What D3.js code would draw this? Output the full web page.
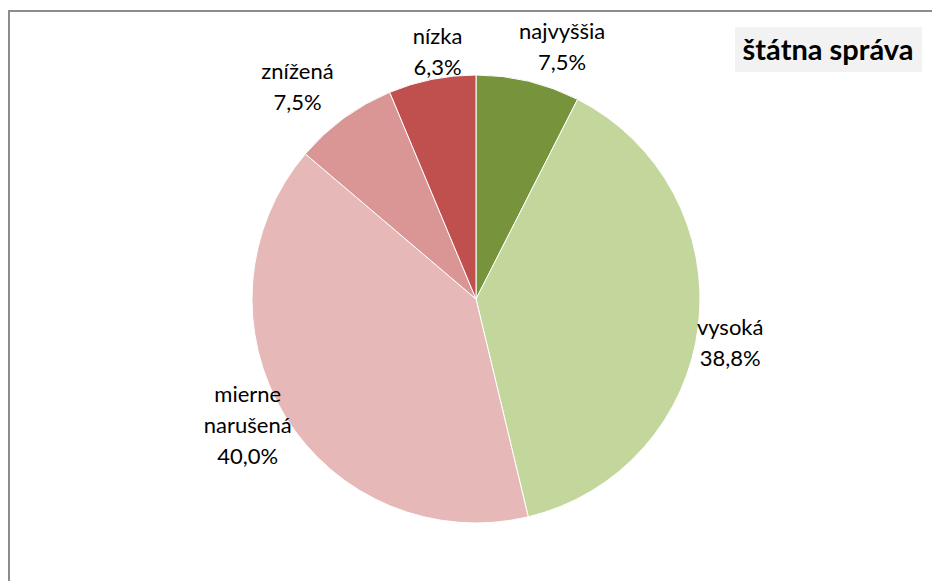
<!DOCTYPE html>
<html lang="sk">
<head>
  <meta charset="UTF-8">
  <title>štátna správa</title>
  <script src="https://d3js.org/d3.v7.min.js"></script>
  <style>
    body { margin: 0; background: #fff; }
    .lbl { font-family: Lato, "Open Sans", sans-serif; font-size: 22px; fill: #000; }
    .title { font-family: Lato, "Open Sans", sans-serif; font-size: 29px; font-weight: bold; fill: #000; }
  </style>
</head>
<body>
  <svg></svg>
  <script>
    // data, clockwise from 12 o'clock
    const categories = ["najvyššia", "vysoká", "mierne narušená", "znížená", "nízka"];
    const labelLines = [["najvyššia"], ["vysoká"], ["mierne", "narušená"], ["znížená"], ["nízka"]];
    const shares = [7.5, 38.8, 40.0, 7.5, 6.3];
    const colors = ["#77933c", "#c3d69b", "#e6b9b8", "#d99694", "#c0504d"];

    // label nudges from the arc centroid (Excel best-fit placement)
    const nudge = [[25, 3], [-6, 13], [-5, -11], [-24, -1], [13, 10]];

    const width = 932, height = 581;
    const cx = 476, cy = 299, r = 224, labelR = 262, lineH = 31;

    const svg = d3.select("svg").attr("width", width).attr("height", height);

    // chart frame (runs off the right and bottom of the picture)
    svg.append("rect").attr("x", 9).attr("y", 11).attr("width", width + 20).attr("height", height + 20)
      .attr("fill", "#fff").attr("stroke", "#8c8c8c").attr("stroke-width", 2);

    const data = categories.map((c, i) => ({ name: c, lines: labelLines[i], value: shares[i], color: colors[i] }));
    const pie = d3.pie().value(d => d.value).sort(null);
    const arcs = pie(data);
    const arc = d3.arc().innerRadius(0).outerRadius(r);
    const labelArc = d3.arc().innerRadius(labelR).outerRadius(labelR);

    const g = svg.append("g").attr("transform", `translate(${cx},${cy})`);
    g.selectAll("path").data(arcs).enter().append("path")
      .attr("d", arc).attr("fill", d => d.data.color)
      .attr("stroke", "#fff").attr("stroke-width", 1);

    const fmt = v => d3.format(".1f")(v).replace(".", ",") + "%";
    g.selectAll("text.lbl").data(arcs).enter().append("text")
      .attr("class", "lbl").attr("text-anchor", "middle")
      .each(function(d, i) {
        const [x, y] = labelArc.centroid(d);
        const lines = d.data.lines.concat([fmt(d.data.value)]);
        const n = lines.length;
        d3.select(this).selectAll("tspan").data(lines).enter().append("tspan")
          .attr("x", x + nudge[i][0])
          .attr("y", (t, k) => y + nudge[i][1] + (k - (n - 1) / 2) * lineH)
          .attr("dy", "0.35em")
          .text(t => t);
      });

    // title box
    svg.append("rect").attr("x", 735).attr("y", 27).attr("width", 187).attr("height", 45).attr("fill", "#f2f2f2");
    svg.append("text").attr("class", "title").attr("x", 828).attr("y", 60).attr("text-anchor", "middle").text("štátna správa");
  </script>
</body>
</html>
